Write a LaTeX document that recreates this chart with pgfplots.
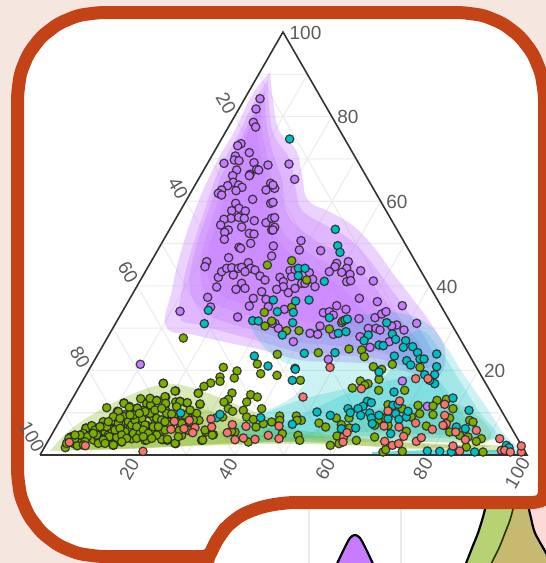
\documentclass[border=0pt]{standalone}
\usepackage{fontspec}
\setmainfont{Liberation Sans}
\usepackage{pgfplots}
\usepackage{pgfplotstable}
\pgfplotsset{compat=1.18}

\definecolor{bgpink}{HTML}{F5E6E0}
\definecolor{frame}{HTML}{C34216}
\definecolor{redg}{HTML}{F8766D}
\definecolor{greeng}{HTML}{7CAE00}
\definecolor{cyang}{HTML}{00BFC4}
\definecolor{purg}{HTML}{C77CFF}
\definecolor{ticktxt}{HTML}{5C5C5C}

% points, in 3x crop coordinates of each region
\pgfplotstableread[row sep=\\]{x y\\
780 296\\ 768 327\\ 760 367\\ 767 381\\ 723 431\\ 713 437\\ 748 458\\ 706 468\\ 703 480\\ 717 482\\ 672 490\\ 762 488\\ 804 495\\ 770 508\\ 776 510\\ 710 510\\ 750 523\\ 748 527\\ 698 527\\ 700 547\\ 683 557\\ 716 555\\ 726 562\\ 665 570\\ 655 580\\ 665 585\\ 708 572\\ 812 550\\ 798 570\\ 812 610\\ 758 598\\ 707 610\\ 717 625\\ 695 632\\ 736 633\\ 693 655\\ 672 658\\ 716 652\\ 733 655\\ 662 675\\ 763 662\\ 798 668\\ 815 655\\ 815 690\\ 725 681\\ 685 690\\ 674 697\\ 673 718\\ 748 700\\ 762 702\\ 717 742\\ 686 773\\ 620 785\\ 615 800\\ 655 832\\ 665 815\\ 680 805\\ 695 803\\ 715 805\\ 700 825\\
}\purA
\pgfplotstableread[row sep=\\]{x y\\
48 492\\ 65 538\\ 5 565\\ 0 555\\ 0 607\\ 5 653\\ 5 682\\ 0 690\\
}\purB
\pgfplotstableread[row sep=\\]{x y\\
650 15\\ 623 46\\ 632 75\\ 708 22\\ 713 105\\ 540 88\\ 421 247\\
}\purC
\pgfplotstableread[row sep=\\]{x y\\
32 10\\ 100 18\\ 95 48\\ 178 30\\ 242 32\\ 183 2\\ 2 25\\ 25 68\\ 5 82\\ 32 85\\ 15 95\\ 45 90\\ 60 108\\ 75 120\\ 120 112\\ 150 92\\ 165 90\\ 155 110\\ 130 125\\ 130 140\\ 110 148\\ 145 158\\ 165 145\\ 185 130\\ 195 130\\ 208 98\\ 218 118\\ 225 140\\ 5 130\\ 15 145\\ 65 155\\ 40 175\\ 78 178\\ 28 198\\ 85 200\\ 133 208\\ 105 250\\ 115 265\\ 160 305\\ 290 70\\ 285 80\\ 325 65\\ 320 85\\ 268 95\\ 305 97\\ 330 103\\ 320 125\\ 332 122\\ 362 92\\ 400 123\\ 358 175\\ 412 185\\ 487 197\\ 530 250\\ 250 218\\ 268 215\\ 280 225\\ 290 197\\ 318 208\\ 357 236\\ 405 233\\ 425 222\\ 438 215\\ 240 258\\ 210 280\\ 233 283\\ 280 283\\ 305 248\\ 385 265\\ 408 265\\ 420 270\\ 360 290\\ 390 322\\ 448 305\\ 492 270\\ 470 255\\ 455 258\\ 265 358\\ 97 250\\
}\purD
\pgfplotstableread[row sep=\\]{x y\\
388 297\\ 463 373\\
}\purE

\pgfplotstableread[row sep=\\]{x y\\
550 168\\ 711 267\\ 670 256\\ 703 288\\ 660 285\\ 660 298\\ 632 303\\ 612 313\\ 595 333\\ 490 304\\ 527 327\\ 696 333\\ 685 352\\ 672 360\\ 752 338\\ 772 345\\ 740 360\\ 785 380\\ 685 380\\ 698 388\\ 730 385\\ 782 275\\ 320 377\\ 372 363\\ 422 350\\ 196 497\\ 212 465\\ 210 480\\ 232 490\\ 218 470\\ 245 470\\ 258 438\\ 270 450\\ 275 432\\ 250 462\\ 262 462\\ 285 465\\ 300 445\\ 292 438\\ 310 422\\ 315 450\\ 325 430\\ 330 465\\ 340 490\\ 340 440\\ 352 388\\ 355 415\\ 350 435\\ 345 460\\ 365 480\\ 365 420\\ 373 398\\ 388 373\\ 412 378\\ 395 395\\ 400 425\\ 405 445\\ 372 450\\ 385 430\\ 450 352\\ 470 355\\ 497 345\\ 497 365\\ 440 365\\ 452 368\\ 430 385\\ 445 395\\ 425 410\\ 460 405\\ 465 425\\ 485 415\\ 440 430\\ 425 455\\ 450 445\\ 435 475\\ 395 470\\ 375 465\\ 480 450\\ 487 473\\ 502 475\\ 497 385\\ 513 397\\ 527 360\\ 540 358\\ 560 363\\ 527 395\\ 545 400\\ 562 400\\ 505 420\\ 540 425\\ 527 485\\ 545 460\\ 538 445\\ 565 445\\ 585 395\\ 600 367\\ 590 410\\ 597 415\\ 570 420\\ 605 475\\ 618 450\\ 640 458\\ 668 405\\ 705 450\\ 745 480\\ 695 448\\ 740 405\\ 760 412\\ 768 435\\ 790 425\\ 815 420\\
}\greenC
\pgfplotstableread[row sep=\\]{x y\\
62 172\\ 70 190\\ 93 178\\ 82 197\\ 108 145\\ 125 137\\ 120 165\\ 130 180\\ 145 175\\ 160 125\\ 150 155\\ 165 155\\ 175 165\\ 185 148\\ 178 170\\ 190 195\\ 200 172\\ 205 130\\ 205 95\\ 222 70\\ 238 82\\ 222 110\\ 235 125\\ 240 145\\ 225 155\\ 250 160\\ 262 85\\ 275 115\\ 285 135\\ 270 160\\ 290 180\\ 305 155\\ 320 115\\ 335 120\\ 302 75\\ 300 55\\ 320 62\\ 345 50\\ 347 70\\ 335 178\\ 352 178\\ 350 100\\ 365 102\\ 375 33\\ 390 65\\ 412 68\\ 360 135\\ 375 190\\ 385 170\\ 395 130\\ 440 100\\ 450 72\\ 445 40\\ 458 180\\ 487 165\\ 465 150\\ 340 10\\
50 190\\ 57 175\\ 75 175\\ 100 160\\ 112 170\\ 105 185\\ 90 165\\ 135 150\\ 140 165\\ 155 140\\ 170 140\\ 195 150\\ 210 145\\ 215 165\\ 230 175\\ 245 135\\ 255 120\\ 260 140\\ 280 150\\ 295 160\\ 310 140\\ 320 165\\ 345 150\\ 300 100\\ 285 95\\ 250 105\\ 268 100\\ 315 90\\ 335 85\\ 325 140\\ 240 105\\ 190 110\\ 175 125\\ 210 115\\ 150 140\\ 130 160\\ 145 190\\ 160 180\\ 215 185\\ 260 175\\ 280 170\\ 305 175\\ 345 125\\ 380 80\\ 430 120\\ 405 105\\ 420 90\\ 100 195\\ 75 165\\ 165 190\\
}\greenF
\pgfplotstableread[row sep=\\]{x y\\
82 75\\ 155 62\\ 200 120\\ 155 202\\ 73 217\\ 75 258\\ 95 243\\ 140 272\\ 177 272\\ 268 267\\ 308 243\\ 112 343\\ 235 338\\ 327 327\\ 365 330\\ 373 350\\ 52 372\\ 400 380\\ 457 373\\ 540 382\\ 425 388\\
}\greenD
\pgfplotstableread[row sep=\\]{x y\\
318 292\\ 12 280\\ 82 295\\ 238 318\\ 262 297\\ 285 305\\ 275 310\\ 317 325\\ 395 325\\ 345 368\\ 388 380\\ 435 370\\ 492 355\\ 520 352\\ 480 372\\ 540 380\\ 480 398\\ 440 395\\ 330 408\\ 315 415\\ 305 430\\ 345 430\\ 415 405\\ 400 448\\ 460 432\\ 530 408\\ 515 430\\ 530 450\\ 590 415\\ 600 420\\ 560 460\\ 585 465\\ 625 470\\ 610 478\\ 580 495\\ 20 402\\ 20 415\\ 70 402\\ 85 415\\ 72 415\\ 138 423\\ 158 435\\ 190 408\\ 205 428\\ 228 408\\ 230 438\\ 192 462\\ 250 475\\ 75 460\\ 80 475\\ 28 455\\ 172 490\\ 198 485\\ 305 465\\ 330 510\\ 338 503\\ 388 508\\ 630 510\\
}\greenE

\pgfplotstableread[row sep=\\]{x y\\
50 417\\ 187 688\\
}\cyanB
\pgfplotstableread[row sep=\\]{x y\\
625 85\\ 613 125\\ 542 393\\ 650 407\\ 660 397\\ 782 407\\
}\cyanC
\pgfplotstableread[row sep=\\]{x y\\
293 17\\ 300 37\\ 175 85\\ 195 85\\ 175 107\\ 253 124\\ 100 180\\ 167 183\\ 207 180\\ 112 215\\ 160 217\\ 38 242\\ 55 243\\ 158 248\\ 268 233\\ 315 240\\ 322 237\\ 127 285\\ 295 280\\ 318 275\\ 385 285\\ 372 302\\ 417 315\\ 430 317\\ 440 248\\ 457 282\\ 467 298\\ 497 302\\ 490 322\\ 518 320\\ 533 338\\ 540 357\\ 552 357\\ 590 342\\ 500 362\\ 512 375\\ 463 348\\ 43 348\\ 84 378\\ 193 340\\ 285 338\\ 165 385\\ 590 380\\
}\cyanD
\pgfplotstableread[row sep=\\]{x y\\
58 295\\ 67 262\\ 363 330\\ 283 358\\ 295 362\\ 270 373\\ 255 380\\ 225 380\\ 232 392\\ 132 390\\ 172 400\\ 58 427\\ 263 400\\ 290 393\\ 295 408\\ 298 425\\ 318 400\\ 345 410\\ 360 370\\ 375 367\\ 368 395\\ 378 412\\ 400 405\\ 405 388\\ 353 455\\ 540 348\\ 588 385\\ 550 435\\ 577 440\\ 700 490\\ 708 497\\ 463 507\\ 500 508\\ 535 510\\ 605 510\\ 248 438\\ 205 440\\ 318 270\\ 485 278\\ 455 278\\ 485 305\\ 470 295\\
}\cyanE

\pgfplotstableread[row sep=\\]{x y\\
208 481\\ 256 491\\ 429 508\\ 513 442\\ 523 418\\ 568 415\\ 552 440\\ 585 437\\ 578 452\\ 633 411\\ 635 435\\ 697 428\\ 682 452\\ 738 433\\ 705 473\\ 730 468\\ 765 472\\ 805 460\\
}\redC
\pgfplotstableread[row sep=\\]{x y\\
270 382\\
}\redD
\pgfplotstableread[row sep=\\]{x y\\
90 345\\ 428 290\\ 465 290\\ 265 320\\ 380 357\\ 345 387\\ 333 432\\ 378 435\\ 428 423\\ 478 442\\ 515 400\\ 520 425\\ 515 367\\ 510 430\\ 548 450\\ 610 445\\ 577 473\\ 335 478\\ 358 490\\ 377 485\\ 392 463\\ 430 478\\ 445 467\\ 540 492\\ 560 507\\ 680 470\\ 685 505\\ 695 505\\ 712 510\\ 745 510\\ 745 492\\ 212 465\\ 222 452\\ 210 480\\ 18 432\\ 18 470\\
}\redE

\newcommand{\pts}[4]{\addplot[only marks, mark=*, mark size=4.2pt,
    mark options={draw=black!85, fill=#2, line width=1.2pt, draw opacity=.85}]
    table[x expr=#3+\thisrow{x}/3, y expr=#4+\thisrow{y}/3]{#1};}
\newcommand{\tick}[4]{\node[rotate=#3, text=ticktxt, font=\fontsize{19}{19}\selectfont] at (axis cs:#1,#2) {#4};}

\begin{document}
\begin{tikzpicture}
\begin{axis}[
    scale only axis, width=546pt, height=563pt,
    xmin=0, xmax=546, ymin=0, ymax=563, y dir=reverse,
    axis lines=none, unbounded coords=jump,
]
% background and lower panel
\addplot[fill=bgpink, draw=none] coordinates {(0,0) (546,0) (546,563) (0,563) (0,0)};
\addplot[fill=white, draw=none] coordinates {(205,490) (546,490) (546,563) (205,563) (205,490)};
\addplot[draw=black!8, line width=2pt] coordinates {(309,505) (309,563)};
\addplot[draw=black!8, line width=2pt] coordinates {(400.5,505) (400.5,563)};
\addplot[fill=purg, draw=black, line width=2.2pt, smooth] coordinates {(336,566) (344,549) (350,538) (355,535) (360,538) (366,549) (374,566)};
\addplot[fill=redg, fill opacity=.27, draw=none] coordinates {(546,505) (546,553) (535,533) (528,505) (546,505)};
\addplot[fill=greeng, fill opacity=.55, draw=none] coordinates {(486,505) (528,505) (531,518) (535,533) (546,553) (552,566) (465,566) (472,548) (478,533) (483,517) (486,505)};
\addplot[fill=redg, fill opacity=.27, draw=none] coordinates {(514,505) (528,505) (531,518) (535,533) (546,553) (552,566) (490,566) (499,548) (505,533) (510,520) (514,505)};
\addplot[draw=black!50!greeng!60!black, line width=1.6pt, smooth] coordinates {(514,505) (510,520) (505,533) (499,548) (490,566)};
\addplot[draw=black, line width=2.2pt, smooth] coordinates {(486,505) (483,517) (478,533) (472,548) (465,566)};
\addplot[draw=black, line width=2.2pt, smooth] coordinates {(528,505) (531,518) (535,533) (546,553) (552,566)};

% main panel with frame
\addplot[fill=white, draw=frame, line width=13pt, rounded corners=6pt] coordinates {
    (17.5,300) (17.5,94.5) (20.3,73.3) (28.5,53.5) (41.5,36.5) (58.5,23.5) (78.3,15.3) (99.5,12.5)
    (462,12.5) (483.2,15.3) (503,23.5) (520,36.5) (533,53.5) (541.2,73.3) (544.5,94.5)
    (544.5,488) (544,499) (538,502.5)
    (290,502.5) (273,504.5) (258,508) (241,515) (226,527) (216,541.5) (209,556.5)
    (99.5,556.5) (78.3,553.7) (58.5,545.5) (41.5,532.5) (28.5,515.5) (20.3,495.7) (17.5,474.5) (17.5,300)
};
% sharp meeting of the two panels
\addplot[draw=frame, line width=13pt] coordinates {(226,527) (216,541.5) (209,556.5) (205,570)};
\addplot[draw=frame, line width=13pt] coordinates {(120,556.5) (214,556.5)};

% ternary grid, every 10
\addplot[draw=black!7, line width=1.1pt] coordinates {
    (64.3,412.7) (502.6,412.7) (0,nan) (88.6,370.4) (478.2,370.4) (0,nan) (112.9,328.1) (453.8,328.1) (0,nan)
    (137.2,285.8) (429.4,285.8) (0,nan) (161.5,243.5) (405,243.5) (0,nan) (185.8,201.2) (380.6,201.2) (0,nan)
    (210.1,158.9) (356.2,158.9) (0,nan) (234.4,116.6) (331.8,116.6) (0,nan) (258.7,74.3) (307.4,74.3) (0,nan)
    (88.7,455) (307.4,74.3) (0,nan) (137.4,455) (331.8,116.6) (0,nan) (186.1,455) (356.2,158.9) (0,nan)
    (234.8,455) (380.6,201.2) (0,nan) (283.5,455) (405,243.5) (0,nan) (332.2,455) (429.4,285.8) (0,nan)
    (380.9,455) (453.8,328.1) (0,nan) (429.6,455) (478.2,370.4) (0,nan) (478.3,455) (502.6,412.7) (0,nan)
    (88.7,455) (64.3,412.7) (0,nan) (137.4,455) (88.6,370.4) (0,nan) (186.1,455) (112.9,328.1) (0,nan)
    (234.8,455) (137.2,285.8) (0,nan) (283.5,455) (161.5,243.5) (0,nan) (332.2,455) (185.8,201.2) (0,nan)
    (380.9,455) (210.1,158.9) (0,nan) (429.6,455) (234.4,116.6) (0,nan) (478.3,455) (258.7,74.3)
};

% densities
\pgfplotsset{dens/.style={draw=none, fill=#1, fill opacity=.27, smooth, tension=.7},
  densb/.style={draw=none, fill=#1, fill opacity=.33, smooth, tension=.7},
  densc/.style={draw=none, fill=#1, fill opacity=.2, smooth, tension=.7}}
\addplot[dens=greeng] coordinates {(50,451) (70,430) (100,410) (130,395) (160,385) (180,385) (205,392) (225,400) (250,410) (275,420) (300,430) (380,440) (440,445) (495,445) (497,452) (430,450) (350,445) (300,442) (250,442) (200,445) (150,448) (100,450) (50,451)};
\addplot[dens=greeng] coordinates {(70,450) (100,428) (140,412) (180,405) (225,415) (270,428) (330,437) (400,442) (490,446) (430,448) (300,444) (200,446) (120,449) (70,450)};
\addplot[dens=greeng] coordinates {(80,450) (120,435) (170,428) (225,432) (300,440) (200,445) (130,448) (80,450)};
\addplot[densc=greeng] coordinates {(300,438) (340,420) (400,405) (460,405) (490,440) (420,442) (340,442) (300,438)};

\addplot[densb=purg] coordinates {(270,72) (273,100) (279,130) (296,150) (302,175) (308,200) (330,212) (352,225) (372,245) (392,272) (412,298) (432,325) (445,350) (440,375) (420,375) (380,365) (340,362) (300,360) (262,350) (225,342) (195,335) (166,327) (172,290) (180,255) (195,210) (215,165) (235,130) (252,95) (270,72)};
\addplot[densb=purg] coordinates {(268,80) (269,105) (274,135) (290,160) (296,190) (302,210) (325,225) (348,238) (368,258) (388,285) (408,312) (425,338) (435,362) (415,368) (375,358) (335,355) (298,352) (262,342) (225,332) (200,325) (180,318) (183,285) (190,255) (203,215) (219,170) (238,135) (255,100) (268,80)};
\addplot[densb=purg] coordinates {(265,90) (266,120) (272,150) (282,180) (288,215) (315,240) (345,255) (365,275) (385,300) (405,325) (422,350) (405,358) (370,350) (330,345) (295,342) (262,332) (225,322) (205,312) (190,290) (194,255) (207,215) (222,175) (240,140) (265,90)};
\addplot[densb=purg] coordinates {(262,100) (262,130) (268,160) (275,195) (282,230) (312,255) (340,270) (360,290) (385,320) (400,345) (365,338) (325,335) (290,330) (262,320) (230,310) (208,298) (200,265) (210,225) (226,180) (243,140) (262,100)};
\addplot[densb=purg] coordinates {(258,105) (258,140) (264,170) (270,205) (278,240) (308,265) (335,282) (355,302) (375,328) (350,325) (310,322) (280,318) (245,305) (216,290) (207,262) (217,222) (232,178) (258,105)};

\addplot[densc=cyang] coordinates {(250,325) (262,345) (280,360) (297,368) (303,380) (298,392) (283,403) (262,412) (240,422) (222,432) (232,440) (270,442) (320,442) (380,440) (440,442) (497,440) (510,450) (527,455) (505,435) (485,405) (462,372) (445,345) (425,322) (390,312) (350,318) (300,330) (250,325)};
\addplot[densc=cyang] coordinates {(400,345) (420,330) (440,350) (458,378) (478,410) (495,438) (440,438) (380,436) (320,438) (260,438) (228,434) (262,415) (300,400) (340,390) (375,382) (392,368) (400,345)};
\addplot[densc=cyang] coordinates {(350,392) (400,378) (430,375) (450,395) (470,425) (480,436) (420,434) (360,432) (300,434) (262,432) (300,415) (350,392)};
\addplot[fill=cyang, fill opacity=.55, draw=none] coordinates {(372,452) (430,450) (500,450) (527,455) (480,456) (372,455) (372,452)};

% points
\pts{\purA}{purg}{0}{0}
\pts{\purB}{purg}{273}{0}
\pts{\purC}{purg}{0}{282}
\pts{\purD}{purg}{240}{240}
\pts{\purE}{purg}{273}{282}
\pts{\greenC}{greeng}{0}{282}
\pts{\greenF}{greeng}{50}{380}
\pts{\greenD}{greeng}{240}{240}
\pts{\greenE}{greeng}{273}{282}
\pts{\cyanB}{cyang}{273}{0}
\pts{\cyanC}{cyang}{0}{282}
\pts{\cyanD}{cyang}{240}{240}
\pts{\cyanE}{cyang}{273}{282}
\pts{\redC}{redg}{0}{282}
\pts{\redD}{redg}{240}{240}
\pts{\redE}{redg}{273}{282}

% triangle
\addplot[draw=black!80, line width=1.6pt] coordinates {(40,455) (283,32) (527,455) (40,455)};

\tick{226}{103}{-60}{20}
\tick{178}{188}{-60}{40}
\tick{128}{272}{-60}{60}
\tick{80}{357}{-60}{80}
\tick{32}{437}{-60}{100}
\tick{305.5}{32.5}{0}{100}
\tick{348}{117}{0}{80}
\tick{397}{201.7}{0}{60}
\tick{447}{287}{0}{40}
\tick{494.7}{371}{0}{20}
\tick{129.3}{469.3}{60}{20}
\tick{227.7}{469.3}{60}{40}
\tick{325.3}{469.3}{60}{60}
\tick{423}{468.7}{60}{80}
\tick{517.3}{473}{60}{100}
\end{axis}
\end{tikzpicture}
\end{document}
